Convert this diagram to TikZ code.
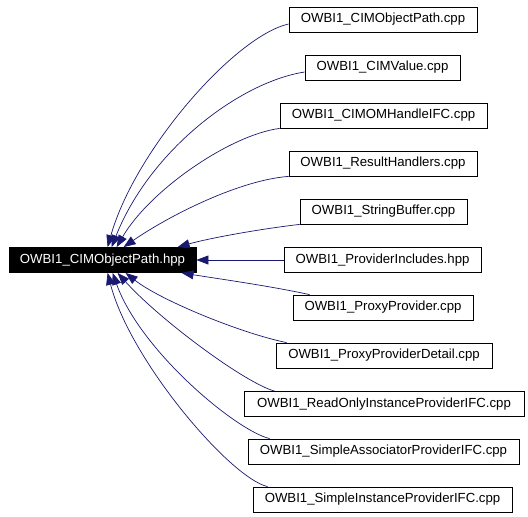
\documentclass[tikz,border=0pt]{standalone}
\usepackage{fontspec}
\setmainfont{Liberation Sans}
\usetikzlibrary{arrows.meta}
\definecolor{edgecol}{HTML}{191970}
\begin{document}
\begin{tikzpicture}[x=1pt,y=-1pt,
  box/.style={draw=black,line width=0.8pt,fill=white,minimum height=25pt,inner sep=0pt,font=\fontsize{13.2}{15}\selectfont},
  mainbox/.style={box,fill=black,text=white},
  dep/.style={draw=edgecol,line width=0.7pt,-{Triangle[length=12pt,width=9pt,fill=edgecol]}}]
\useasboundingbox (0,0) rectangle (528,517);
\node[mainbox,minimum width=187pt] (main) at (102.5,260) {OWBI1\_CIMObjectPath.hpp};
\node[box,minimum width=188pt] (n1) at (383,19.5) {OWBI1\_CIMObjectPath.cpp};
\node[box,minimum width=155pt] (n2) at (382.5,67.5) {OWBI1\_CIMValue.cpp};
\node[box,minimum width=207pt] (n3) at (383.5,115.5) {OWBI1\_CIMOMHandleIFC.cpp};
\node[box,minimum width=188pt] (n4) at (383,163.5) {OWBI1\_ResultHandlers.cpp};
\node[box,minimum width=167pt] (n5) at (383.5,211.5) {OWBI1\_StringBuffer.cpp};
\node[box,minimum width=197pt] (n6) at (382.5,260) {OWBI1\_ProviderIncludes.hpp};
\node[box,minimum width=180pt] (n7) at (383,307.5) {OWBI1\_ProxyProvider.cpp};
\node[box,minimum width=216pt] (n8) at (384,355.5) {OWBI1\_ProxyProviderDetail.cpp};
\node[box,minimum width=280pt] (n9) at (384,404) {OWBI1\_ReadOnlyInstanceProviderIFC.cpp};
\node[box,minimum width=271pt] (n10) at (383.5,451.5) {OWBI1\_SimpleAssociatorProviderIFC.cpp};
\node[box,minimum width=259pt] (n11) at (382.5,499.5) {OWBI1\_SimpleInstanceProviderIFC.cpp};
% edges
\draw[dep] ([yshift=-4.5pt]n1.west) .. controls (235,36) and (135,150) .. ([xshift=99pt]main.north west);
\draw[dep] ([yshift=-4.5pt]n2.west) .. controls (240,82) and (150,150) .. ([xshift=103pt]main.north west);
\draw[dep] (n3.south west) .. controls (230,135) and (150,190) .. ([xshift=108pt]main.north west);
\draw[dep] (n4.south west) .. controls (240,180) and (170,215) .. ([xshift=115pt]main.north west);
\draw[dep] (n5.south west) .. controls (260,229) and (210,238) .. ([xshift=169pt]main.north west);
\draw[dep] (n6.west) -- (main.east);
\draw[dep] ([xshift=17pt]n7.north west) .. controls (270,286) and (220,279) .. ([xshift=173pt]main.south west);
\draw[dep] ([xshift=11pt]n8.north west) .. controls (240,333) and (160,300) .. ([xshift=117pt]main.south west);
\draw[dep] ([xshift=31pt]n9.north west) .. controls (245,383) and (160,320) .. ([xshift=109pt]main.south west);
\draw[dep] ([xshift=22pt]n10.north west) .. controls (235,430) and (140,350) .. ([xshift=104pt]main.south west);
\draw[dep] ([xshift=15pt]n11.north west) .. controls (230,478) and (130,360) .. ([xshift=99pt]main.south west);
\end{tikzpicture}
\end{document}
